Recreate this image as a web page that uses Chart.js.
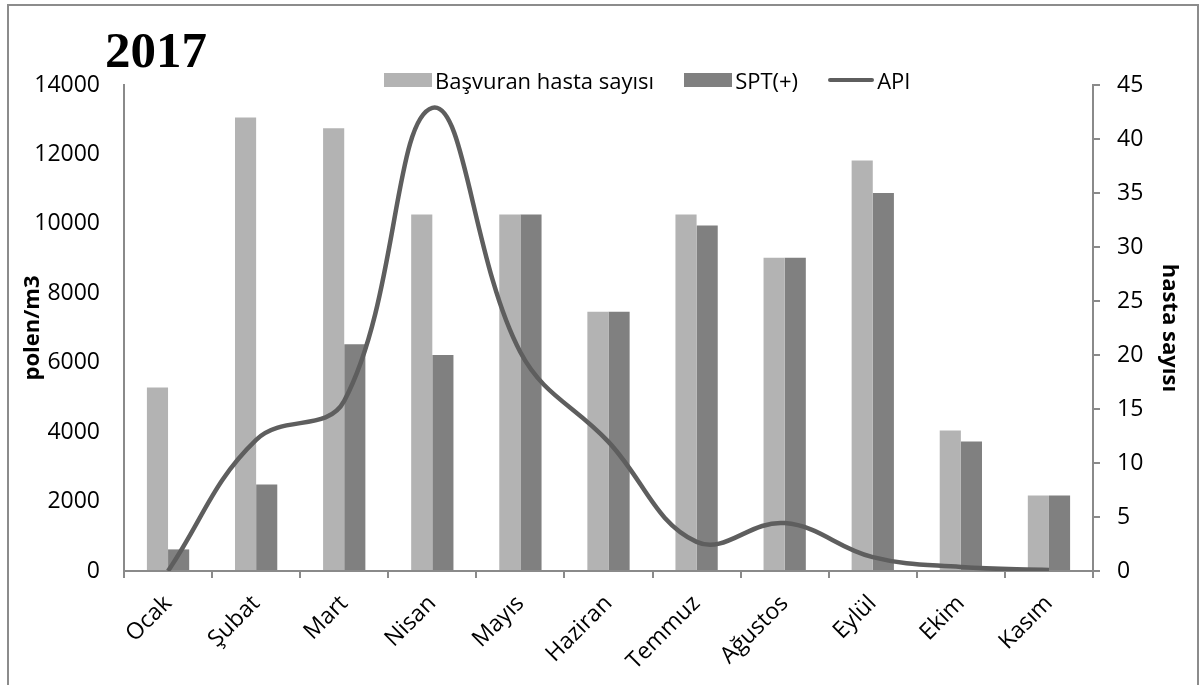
<!DOCTYPE html>
<html>
<head>
<meta charset="utf-8">
<title>2017</title>
<script src="https://cdn.jsdelivr.net/npm/chart.js@4"></script>
<style>
  html, body { margin: 0; padding: 0; background: #fff; }
  #wrap { position: relative; width: 1204px; height: 685px; overflow: hidden; font-family: "Open Sans", sans-serif; }
  #frame { position: absolute; left: 7px; top: 4px; width: 1188px; height: 720px; border: 2px solid #8c8c8c; }
  #year { position: absolute; left: 105px; top: 25px; font: bold 51px/1 "Liberation Serif", "Times New Roman", serif; color: #000; }
  #legend { position: absolute; left: 384px; top: 65px; height: 30px; display: flex; align-items: center; font-size: 22px; line-height: 30px; color: #000; }
  #legend .item { display: flex; align-items: center; margin-right: 30px; }
  #legend .sw { width: 48px; height: 14px; margin-right: 3px; }
  #legend .ln { width: 46px; height: 4px; border-radius: 2px; margin-right: 3px; }
  canvas { position: absolute; left: 0; top: 0; }
</style>
</head>
<body>
<div id="wrap">
  <div id="frame"></div>
  <canvas id="chart" width="1204" height="685"></canvas>
  <div id="year">2017</div>
  <div id="legend"></div>
</div>
<script>
// months
const months = ["Ocak", "Şubat", "Mart", "Nisan", "Mayıs", "Haziran", "Temmuz", "Ağustos", "Eylül", "Ekim", "Kasım"];
// patient counts (right axis)
const basvuran = [17, 42, 41, 33, 33, 24, 33, 29, 38, 13, 7];
const sptPlus = [2, 8, 21, 20, 33, 24, 32, 29, 35, 12, 7];
// annual pollen index, polen/m3 (left axis)
const api = [0, 3780, 4900, 13340, 6300, 3720, 840, 1380, 400, 115, 30];

const LIGHT = "#b3b3b3", DARK = "#808080", LINE = "#5e5e5e", AXIS = "#8a8a8a";
const tickFont = { family: "'Open Sans', sans-serif", size: 23 };
const titleFont = { family: "'Open Sans', sans-serif", size: 22, weight: "bold" };

// legend (html)
const legendItems = [
  { label: "Başvuran hasta sayısı", color: LIGHT, kind: "box" },
  { label: "SPT(+)", color: DARK, kind: "box" },
  { label: "API", color: LINE, kind: "line" }
];
const leg = document.getElementById("legend");
legendItems.forEach(it => {
  const d = document.createElement("div");
  d.className = "item";
  d.innerHTML = `<span class="${it.kind === "box" ? "sw" : "ln"}" style="background:${it.color}"></span><span>${it.label}</span>`;
  leg.appendChild(d);
});

new Chart(document.getElementById("chart"), {
  data: {
    labels: months,
    datasets: [
      { type: "line", label: "API", data: api, yAxisID: "y", borderColor: LINE, borderWidth: 4.5,
        tension: 0.4, pointRadius: 0, fill: false, order: 0 },
      { type: "bar", label: "Başvuran hasta sayısı", data: basvuran, yAxisID: "y1", backgroundColor: LIGHT,
        categoryPercentage: 0.48, barPercentage: 1, order: 1 },
      { type: "bar", label: "SPT(+)", data: sptPlus, yAxisID: "y1", backgroundColor: DARK,
        categoryPercentage: 0.48, barPercentage: 1, order: 1 }
    ]
  },
  options: {
    responsive: false,
    animation: false,
    layout: { padding: { left: 0, right: 0, top: 85, bottom: 0 } },
    plugins: { legend: { display: false }, tooltip: { enabled: false } },
    scales: {
      x: {
        offset: true,
        grid: { display: true, offset: true, drawOnChartArea: false, drawTicks: true, tickLength: 7, color: AXIS, lineWidth: 2 },
        border: { display: true, color: AXIS, width: 2 },
        ticks: { font: tickFont, color: "#000", autoSkip: false, minRotation: 45, maxRotation: 45, padding: 12 },
        afterFit: s => { s.height = 114; }
      },
      y: {
        position: "left",
        min: 0, max: 14000,
        grid: { display: false, drawTicks: false },
        border: { display: true, color: AXIS, width: 2 },
        ticks: { stepSize: 2000, font: tickFont, color: "#000", padding: 24, callback: v => String(v) },
        title: { display: true, text: "polen/m3", font: titleFont, color: "#000", padding: { top: 20, bottom: 0 } },
        afterFit: s => { s.width = 124; }
      },
      y1: {
        position: "right",
        min: 0, max: 45,
        grid: { display: true, drawOnChartArea: false, drawTicks: true, tickLength: 7, color: AXIS, lineWidth: 2 },
        border: { display: true, color: AXIS, width: 2 },
        ticks: { stepSize: 5, font: tickFont, color: "#000", padding: 17 },
        title: { display: true, text: "hasta sayısı", font: titleFont, color: "#000", padding: { top: 22, bottom: 0 } },
        afterFit: s => { s.width = 111; }
      }
    }
  }
});
</script>
</body>
</html>
